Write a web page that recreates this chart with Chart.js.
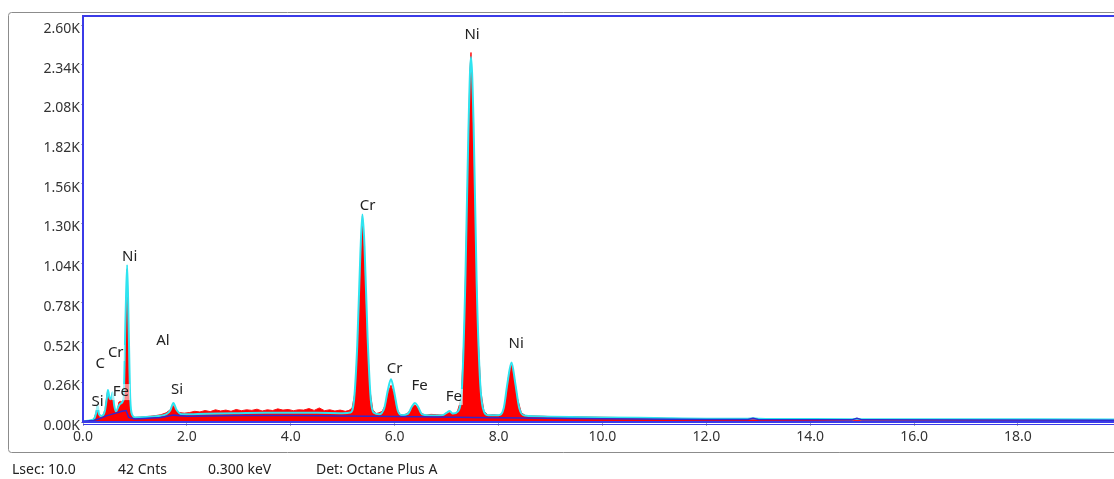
<!DOCTYPE html>
<html>
<head>
<meta charset="utf-8">
<script src="https://cdn.jsdelivr.net/npm/chart.js@4.4.0/dist/chart.umd.min.js"></script>
<style>
  html, body { margin: 0; padding: 0; background: #ffffff; }
  #wrap { position: relative; width: 1114px; height: 479px; }
</style>
</head>
<body>
<div id="wrap"><canvas id="spectrum" width="1114" height="479"></canvas></div>
<script>
// measured spectrum (red), keV / counts
const specKeV = [0.00, 0.10, 0.18, 0.22, 0.25, 0.27, 0.29, 0.32, 0.36, 0.40, 0.44, 0.47, 0.50, 0.53, 0.56, 0.59, 0.62, 0.66, 0.69, 0.72, 0.76, 0.80, 0.82, 0.85, 0.87, 0.89, 0.92, 0.96,
  1.00, 1.10, 1.20, 1.30, 1.40, 1.50, 1.60, 1.68, 1.73, 1.78, 1.85, 1.95, 2.05, 2.15, 2.25, 2.35, 2.45, 2.55, 2.65, 2.75, 2.85, 2.95,
  3.05, 3.15, 3.25, 3.35, 3.45, 3.55, 3.65, 3.75, 3.85, 3.95, 4.05, 4.15, 4.25, 4.35, 4.45, 4.55, 4.65, 4.75, 4.85, 4.95,
  5.05, 5.12, 5.18, 5.24, 5.30, 5.35, 5.38, 5.41, 5.46, 5.52, 5.58, 5.64, 5.70, 5.76, 5.82, 5.88, 5.93, 5.98,
  6.04, 6.10, 6.18, 6.26, 6.34, 6.39, 6.44, 6.52, 6.60, 6.70, 6.80, 6.92, 7.00, 7.06, 7.12, 7.20, 7.28, 7.34, 7.40, 7.45, 7.47, 7.50, 7.55, 7.60, 7.66, 7.72, 7.80, 7.90,
  8.00, 8.08, 8.14, 8.20, 8.25, 8.30, 8.36, 8.44, 8.52, 8.62, 8.80, 9.00, 9.40, 9.80, 10.2, 10.6, 11.0, 11.4, 11.8, 12.2, 12.6, 13.0, 13.6, 14.2, 15.0, 16.0, 17.0, 18.0, 19.0, 19.85];
const specCounts = [0, 4, 10, 30, 60, 105, 55, 30, 35, 50, 120, 195, 150, 140, 175, 120, 60, 70, 130, 135, 130, 140, 600, 1000, 700, 200, 60, 35,
  30, 32, 35, 38, 42, 48, 60, 80, 110, 85, 62, 58, 62, 70, 66, 75, 68, 80, 72, 78, 70, 82,
  74, 80, 76, 84, 72, 80, 75, 86, 78, 82, 74, 80, 78, 88, 76, 92, 74, 80, 72, 78,
  70, 76, 90, 200, 600, 1100, 1350, 1150, 650, 220, 80, 55, 60, 70, 110, 200, 240, 190,
  90, 50, 45, 60, 100, 112, 95, 55, 45, 50, 48, 45, 55, 62, 50, 60, 150, 600, 1500, 2300, 2420, 2100, 1300, 600, 200, 70, 45, 48,
  45, 55, 150, 320, 370, 300, 160, 60, 42, 40, 38, 36, 34, 32, 30, 28, 26, 22, 20, 18, 16, 15, 14, 13, 12, 11, 10, 9, 9, 8];

// fitted spectrum (cyan)
const fitKeV = [0.00, 0.15, 0.22, 0.26, 0.28, 0.31, 0.36, 0.42, 0.46, 0.48, 0.51, 0.54, 0.57, 0.60, 0.64, 0.68, 0.72, 0.78, 0.82, 0.85, 0.88, 0.91, 0.95,
  1.00, 1.20, 1.40, 1.60, 1.68, 1.74, 1.80, 1.90, 2.20, 2.60, 3.00, 3.50, 4.00, 4.50, 5.00, 5.15, 5.22, 5.28, 5.34, 5.38, 5.42, 5.48, 5.54, 5.60, 5.70, 5.80, 5.87, 5.93, 5.99,
  6.06, 6.14, 6.26, 6.33, 6.39, 6.45, 6.53, 6.70, 6.92, 7.00, 7.06, 7.12, 7.22, 7.30, 7.36, 7.42, 7.47, 7.52, 7.58, 7.64, 7.70, 7.80,
  8.00, 8.10, 8.17, 8.25, 8.32, 8.40, 8.50, 8.70, 9.00, 10.0, 11.0, 12.0, 12.8, 12.9, 13.0, 14.0, 14.8, 14.9, 15.0, 16.0, 18.0, 19.85];
const fitCounts = [5, 12, 25, 70, 110, 50, 40, 70, 160, 210, 160, 150, 195, 110, 70, 100, 120, 150, 700, 1030, 600, 150, 45,
  30, 32, 38, 50, 75, 125, 80, 50, 52, 56, 58, 60, 60, 60, 58, 62, 150, 500, 1100, 1360, 1150, 550, 150, 60, 50, 90, 210, 280, 200,
  75, 45, 55, 100, 125, 100, 50, 42, 45, 60, 72, 55, 70, 250, 900, 1900, 2390, 1950, 900, 300, 90, 45,
  45, 90, 250, 390, 260, 90, 42, 38, 35, 30, 26, 22, 22, 24, 22, 19, 18, 21, 18, 18, 18, 17];

// background (dark blue)
const bgKeV = [0.0, 0.2, 0.3, 0.45, 0.6, 0.75, 0.83, 0.88, 1.0, 1.5, 1.74, 2.0, 3.0, 4.0, 5.0, 5.5, 6.5, 7.5, 8.5, 10.0, 12.0, 12.8, 12.9, 13.0, 14.8, 14.9, 15.0, 19.85];
const bgCounts = [5, 10, 20, 40, 55, 70, 75, 30, 20, 30, 45, 38, 42, 42, 40, 38, 34, 30, 26, 22, 16, 16, 24, 16, 14, 24, 14, 12];

// peak labels
const peakNames  = ['Ni', 'Cr', 'Ni', 'Al', 'C', 'Cr', 'Fe', 'Si', 'Si', 'Cr', 'Fe', 'Fe', 'Ni'];
const peakKeV    = [7.49, 5.48, 0.90, 1.54, 0.33, 0.63, 0.73, 0.28, 1.81, 6.00, 6.48, 7.14, 8.34];
const peakCounts = [2535, 1415, 1080, 530, 380, 452, 196, 131, 210, 350, 236, 164, 512];

const xTicks = [0, 2, 4, 6, 8, 10, 12, 14, 16, 18];
const yTicks = [0, 260, 520, 780, 1040, 1300, 1560, 1820, 2080, 2340, 2600];

const statusItems = ['Lsec: 10.0', '42 Cnts', '0.300 keV', 'Det: Octane Plus A'];
const statusX = [12, 118, 208, 316];

const pts = (xs, ys) => xs.map((x, i) => ({ x: x, y: ys[i] }));

const FONT = '"Noto Sans", "DejaVu Sans", sans-serif';

const decor = {
  id: 'decor',
  afterDatasetsDraw(chart) {
    const ctx = chart.ctx;
    const a = chart.chartArea;
    const xs = chart.scales.x, ys = chart.scales.y;
    ctx.save();
    // plot frame
    ctx.strokeStyle = '#3b3be8';
    ctx.lineWidth = 2;
    ctx.beginPath();
    ctx.moveTo(a.right + 2, a.top);
    ctx.lineTo(a.left, a.top);
    ctx.lineTo(a.left, a.bottom);
    ctx.lineTo(a.right + 2, a.bottom);
    ctx.stroke();
    ctx.lineWidth = 1;
    ctx.beginPath();
    ctx.moveTo(a.left, a.bottom + 2.5);
    ctx.lineTo(a.right + 2, a.bottom + 2.5);
    ctx.stroke();

    // element labels
    ctx.font = '15px ' + FONT;
    ctx.textAlign = 'center';
    ctx.textBaseline = 'middle';
    peakNames.forEach((name, i) => {
      const px = xs.getPixelForValue(peakKeV[i]);
      const py = ys.getPixelForValue(peakCounts[i]);
      const w = ctx.measureText(name).width;
      ctx.fillStyle = 'rgba(255,255,255,0.55)';
      ctx.fillRect(px - w / 2 - 1, py - 8, w + 2, 16);
      ctx.fillStyle = '#222222';
      ctx.fillText(name, px, py);
    });

    // outer frame
    ctx.strokeStyle = '#8c8c8c';
    ctx.lineWidth = 1;
    ctx.beginPath();
    ctx.roundRect(8.5, 12.5, 1120, 440, 3);
    ctx.stroke();

    // status line
    ctx.font = '14px ' + FONT;
    ctx.textAlign = 'left';
    ctx.fillStyle = '#222222';
    statusItems.forEach((t, i) => ctx.fillText(t, statusX[i], 470));
    ctx.restore();
  }
};

new Chart(document.getElementById('spectrum'), {
  type: 'line',
  data: {
    datasets: [
      {
        label: 'Background',
        data: pts(bgKeV, bgCounts),
        borderColor: '#3326cc',
        borderWidth: 1.5,
        fill: false,
        order: 1
      },
      {
        label: 'Fit',
        data: pts(fitKeV, fitCounts),
        borderColor: '#2ee4f0',
        borderWidth: 2,
        cubicInterpolationMode: 'monotone',
        fill: false,
        order: 2
      },
      {
        label: 'Spectrum',
        data: pts(specKeV, specCounts),
        borderColor: '#ff1010',
        backgroundColor: '#ff0000',
        borderWidth: 1,
        fill: 'origin',
        order: 3
      }
    ]
  },
  options: {
    responsive: false,
    animation: false,
    layout: { padding: { left: 0, right: 0, top: 16, bottom: 0 } },
    elements: { point: { radius: 0 }, line: { tension: 0 } },
    plugins: { legend: { display: false }, tooltip: { enabled: false } },
    scales: {
      x: {
        type: 'linear',
        min: 0,
        max: 19.85,
        afterBuildTicks: s => { s.ticks = xTicks.map(v => ({ value: v })); },
        afterFit: s => { s.height = 57; },
        border: { display: false },
        grid: { drawOnChartArea: false, tickLength: 4, color: '#aaaaaa' },
        ticks: {
          autoSkip: false,
          maxRotation: 0,
          padding: 3,
          color: '#333333',
          font: { family: FONT, size: 14 },
          callback: v => v.toFixed(1)
        }
      },
      y: {
        min: 0,
        max: 2659,
        afterBuildTicks: s => { s.ticks = yTicks.map(v => ({ value: v })); },
        afterFit: s => { s.width = 83; },
        border: { display: false },
        grid: { drawOnChartArea: false, tickLength: 2, color: '#aaaaaa' },
        ticks: {
          padding: 1,
          labelOffset: 4,
          color: '#333333',
          font: { family: FONT, size: 14 },
          callback: v => (v / 1000).toFixed(2) + 'K'
        }
      }
    }
  },
  plugins: [decor]
});
</script>
</body>
</html>
